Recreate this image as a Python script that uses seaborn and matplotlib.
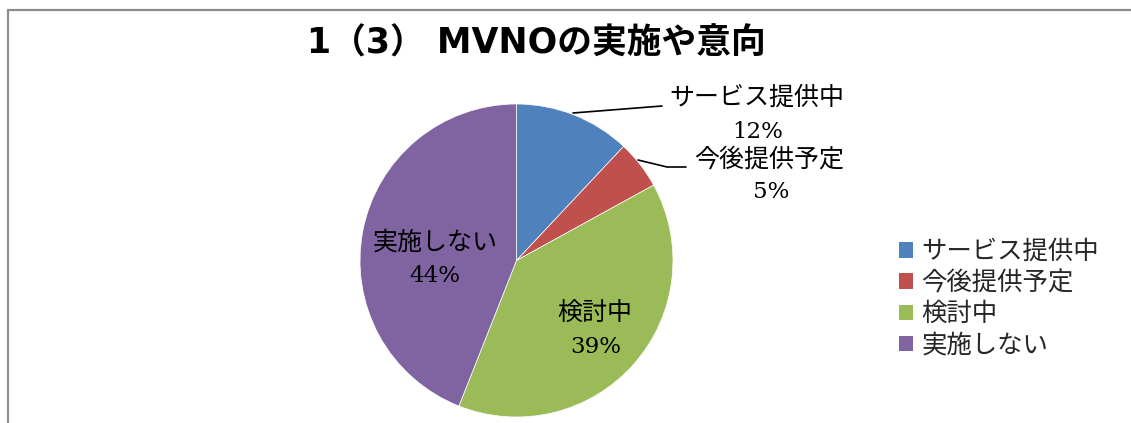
import matplotlib
matplotlib.use("Agg")
import matplotlib.pyplot as plt
import seaborn as sns
from matplotlib.patches import Patch
from matplotlib.lines import Line2D

categories = ["サービス提供中", "今後提供予定", "検討中", "実施しない"]
values = [12, 5, 39, 44]
colors = ["#4F81BD", "#C0504D", "#9BBB59", "#8064A2"]
title = "1（3） MVNOの実施や意向"

sns.set_theme(style="white")
plt.rcParams['font.family'] = ['Noto Sans CJK JP', 'DejaVu Sans']

W, H = 1131, 423
fig = plt.figure(figsize=(W / 100, H / 100), dpi=100)

# pie axes: center / radius in pixels
cx, cy, r = 516.5, 260.5, 156.5
ax = fig.add_axes([(cx - r) / W, (H - cy - r) / H, 2 * r / W, 2 * r / H])
wedges, _ = ax.pie(values, colors=colors, startangle=90, counterclock=False,
                   wedgeprops=dict(linewidth=0.5, edgecolor="white"))
ax.set_xlim(-1, 1)
ax.set_ylim(-1, 1)
ax.set_aspect("equal")
ax.axis("off")

def px(x, y):
    return ((x - cx) / r, (cy - y) / r)

name_fs = 18
pct_fs = 16.5
label_pos = [
    ((757, 98), (758, 132)),
    ((769, 160), (771, 192)),
    ((595, 314), (596, 347)),
    ((435, 243), (435, 276)),
]
for cat, v, (npos, ppos) in zip(categories, values, label_pos):
    ax.text(*px(*npos), cat, ha="center", va="center", fontsize=name_fs,
            color="black", clip_on=False)
    ax.text(*px(*ppos), f"{v}%", ha="center", va="center", fontsize=pct_fs,
            family="DejaVu Serif", color="black", clip_on=False)

# leader lines
for pts in ([(573, 113), (662, 106)], [(638, 160), (667, 167), (686, 167)]):
    xs, ys = zip(*[px(*p) for p in pts])
    ax.plot(xs, ys, color="black", lw=1.2, clip_on=False)

# title
fig.text(536 / W, 1 - 44 / H, title, ha="center", va="center",
         fontsize=25, fontweight="bold", color="black",
         family=['DejaVu Sans', 'Noto Sans CJK JP'])

# legend
handles = [Patch(facecolor=c, edgecolor="none") for c in colors]
leg = fig.legend(handles, categories, loc="upper left",
                 bbox_to_anchor=(899 / W, 1 - 239 / H), frameon=False,
                 fontsize=18.3, handlelength=0.55, handleheight=0.55,
                 handletextpad=0.33, labelspacing=0.2, borderpad=0,
                 borderaxespad=0)

# outer border (top and left only visible)
fig.add_artist(Line2D([8 / W, 1.0], [1 - 10 / H, 1 - 10 / H], color="#8C8C8C",
                      lw=1.6, transform=fig.transFigure))
fig.add_artist(Line2D([8 / W, 8 / W], [1 - 10 / H, 0], color="#8C8C8C",
                      lw=1.6, transform=fig.transFigure))

fig.savefig("out.png", dpi=100, facecolor="white")
